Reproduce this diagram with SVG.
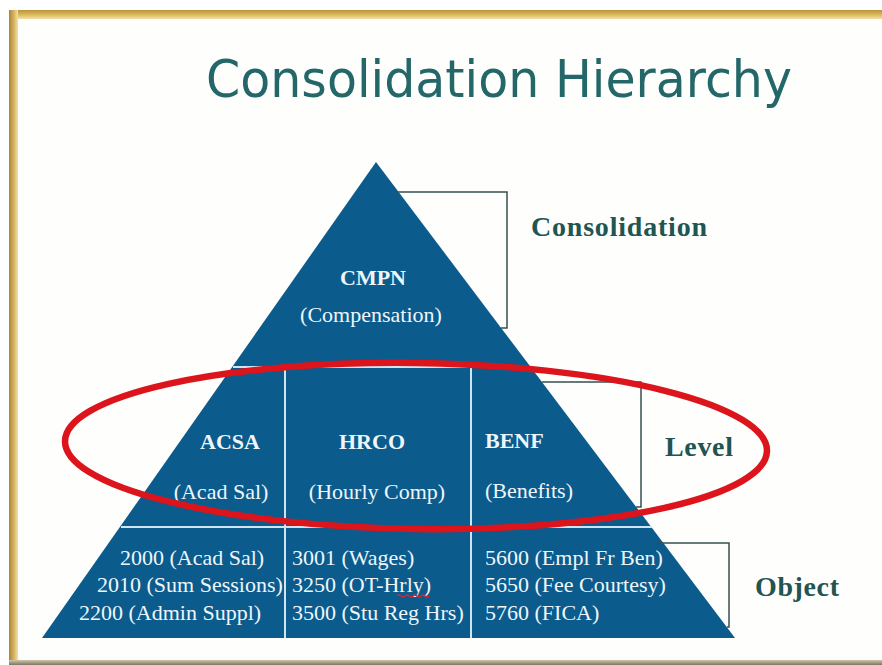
<svg xmlns="http://www.w3.org/2000/svg" width="882" height="665" viewBox="0 0 882 665">
  <defs>
    <linearGradient id="goldTop" x1="0" y1="0" x2="0" y2="1">
      <stop offset="0" stop-color="#b8953a"/>
      <stop offset="0.5" stop-color="#d9b65a"/>
      <stop offset="1" stop-color="#f3e2a6"/>
    </linearGradient>
    <linearGradient id="goldLeft" x1="0" y1="0" x2="1" y2="0">
      <stop offset="0" stop-color="#a88632"/>
      <stop offset="0.5" stop-color="#d4b05a"/>
      <stop offset="1" stop-color="#f3e2a6"/>
    </linearGradient>
    <linearGradient id="goldBottom" x1="0" y1="0" x2="0" y2="1">
      <stop offset="0" stop-color="#cfc6ac"/>
      <stop offset="1" stop-color="#7d7560"/>
    </linearGradient>
    <style>
      .tri { fill: #0b5b8d; }
      .div { stroke: #cfe6f0; stroke-width: 2; fill: none; }
      .brk { stroke: #34504f; stroke-width: 1.5; fill: none; }
      .lbl { font-family: "Liberation Serif", "Times New Roman", serif; font-weight: bold; font-size: 28px; fill: #1f5552; }
      .in { font-family: "Liberation Serif", "Times New Roman", serif; font-size: 22px; fill: #eef6fa; }
      .inb { font-family: "Liberation Serif", "Times New Roman", serif; font-weight: bold; font-size: 22px; fill: #eef6fa; }
      .ring { fill: none; stroke: #dc141c; stroke-width: 6.5; }
    </style>
  </defs>

  <!-- page and gold frame -->
  <rect x="0" y="0" width="882" height="665" fill="#ffffff"/>
  <rect x="9" y="10" width="873" height="652" fill="#fefefc"/>
  <rect x="9" y="10" width="873" height="9" fill="url(#goldTop)"/>
  <rect x="9" y="10" width="9" height="652" fill="url(#goldLeft)"/>
  <rect x="9" y="660" width="873" height="5" fill="url(#goldBottom)"/>

  <!-- title -->
  <text x="206" y="97" font-family="'DejaVu Sans', Verdana, sans-serif" font-size="51" fill="#236769" textLength="586" lengthAdjust="spacingAndGlyphs">Consolidation Hierarchy</text>

  <!-- pyramid body -->
  <g id="pyramid">
    <polygon class="tri" points="376,162 42,638 735,638"/>
  </g>

  <!-- dividers inside the pyramid -->
  <g id="dividers">
    <line class="div" x1="233" y1="367" x2="531" y2="367"/>
    <line class="div" x1="121" y1="527" x2="652" y2="527"/>
    <line class="div" x1="285" y1="367" x2="285" y2="638"/>
    <line class="div" x1="471" y1="367" x2="471" y2="638"/>
  </g>

  <!-- tier brackets -->
  <g id="connectors">
    <polyline class="brk" points="398,192 507,192 507,328 501,328"/>
    <polyline class="brk" points="542,382 641,382 641,507 636,507"/>
    <polyline class="brk" points="657,543 729,543 729,627 727,627"/>
  </g>

  <g id="node-cmpn">
    <text class="inb" x="373" y="285" text-anchor="middle">CMPN</text>
    <text class="in" x="371" y="322" text-anchor="middle">(Compensation)</text>
  </g>

  <g id="node-acsa">
    <text class="inb" x="230" y="449" text-anchor="middle">ACSA</text>
    <text class="in" x="221" y="499" text-anchor="middle">(Acad Sal)</text>
  </g>

  <g id="node-hrco">
    <text class="inb" x="372" y="449" text-anchor="middle">HRCO</text>
    <text class="in" x="377" y="499" text-anchor="middle">(Hourly Comp)</text>
  </g>

  <g id="node-benf">
    <text class="inb" x="485" y="448">BENF</text>
    <text class="in" x="485" y="498">(Benefits)</text>
  </g>

  <g id="node-objects-2000">
    <text class="in" x="120" y="565">2000 (Acad Sal)</text>
    <text class="in" x="97" y="592">2010 (Sum Sessions)</text>
    <text class="in" x="79" y="620">2200 (Admin Suppl)</text>
  </g>

  <g id="node-objects-3000">
    <text class="in" x="292" y="565">3001 (Wages)</text>
    <text class="in" x="292" y="592">3250 (OT-Hrly)</text>
    <text class="in" x="292" y="620">3500 (Stu Reg Hrs)</text>
    <path d="M397,596 q2,-2 4,0 t4,0 t4,0 t4,0 t4,0 t4,0 t4,0 t4,0" fill="none" stroke="#e0202a" stroke-width="1.2"/>
  </g>

  <g id="node-objects-5000">
    <text class="in" x="485" y="565">5600 (Empl Fr Ben)</text>
    <text class="in" x="485" y="592">5650 (Fee Courtesy)</text>
    <text class="in" x="485" y="620">5760 (FICA)</text>
  </g>

  <!-- tier names -->
  <g id="label-consolidation"><text class="lbl" x="531" y="236" textLength="176">Consolidation</text></g>
  <g id="label-level"><text class="lbl" x="665" y="456" textLength="68">Level</text></g>
  <g id="label-object"><text class="lbl" x="755" y="596" textLength="84">Object</text></g>

  <!-- highlight ring round the level tier -->
  <g id="highlight">
    <ellipse class="ring" cx="416" cy="446" rx="351" ry="83" transform="rotate(0.8 416 446)"/>
  </g>
</svg>
